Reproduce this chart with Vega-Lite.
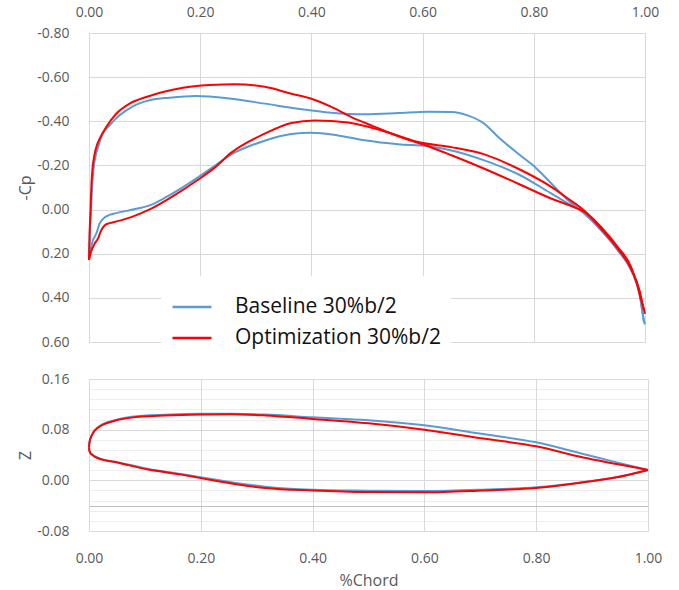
{
  "$schema": "https://vega.github.io/schema/vega-lite/v6.json",
  "background": "white",
  "padding": {"left": 17, "top": 5, "right": 5, "bottom": 5},
  "config": {
    "font": "Open Sans",
    "view": {"stroke": null},
    "axis": {"labelColor": "#595959", "labelFontSize": 14, "titleColor": "#595959", "titleFontSize": 16, "titleFontWeight": "normal", "gridColor": "#d9d9d9", "domain": false, "ticks": false, "tickSize": 0, "labelOverlap": false}
  },
  "datasets": {
    "cp": [
      {"s": "Baseline 30%b/2", "f": "upper", "x": 0, "cp": 0.227},
      {"s": "Baseline 30%b/2", "f": "upper", "x": 0.0015, "cp": 0.10},
      {"s": "Baseline 30%b/2", "f": "upper", "x": 0.0036, "cp": 0.0},
      {"s": "Baseline 30%b/2", "f": "upper", "x": 0.006, "cp": -0.12},
      {"s": "Baseline 30%b/2", "f": "upper", "x": 0.0084, "cp": -0.19},
      {"s": "Baseline 30%b/2", "f": "upper", "x": 0.012, "cp": -0.245},
      {"s": "Baseline 30%b/2", "f": "upper", "x": 0.016, "cp": -0.28},
      {"s": "Baseline 30%b/2", "f": "upper", "x": 0.025, "cp": -0.344},
      {"s": "Baseline 30%b/2", "f": "upper", "x": 0.037, "cp": -0.382},
      {"s": "Baseline 30%b/2", "f": "upper", "x": 0.055, "cp": -0.427},
      {"s": "Baseline 30%b/2", "f": "upper", "x": 0.079, "cp": -0.468},
      {"s": "Baseline 30%b/2", "f": "upper", "x": 0.109, "cp": -0.495},
      {"s": "Baseline 30%b/2", "f": "upper", "x": 0.145, "cp": -0.507},
      {"s": "Baseline 30%b/2", "f": "upper", "x": 0.193, "cp": -0.515},
      {"s": "Baseline 30%b/2", "f": "upper", "x": 0.256, "cp": -0.502},
      {"s": "Baseline 30%b/2", "f": "upper", "x": 0.316, "cp": -0.48},
      {"s": "Baseline 30%b/2", "f": "upper", "x": 0.376, "cp": -0.457},
      {"s": "Baseline 30%b/2", "f": "upper", "x": 0.436, "cp": -0.439},
      {"s": "Baseline 30%b/2", "f": "upper", "x": 0.496, "cp": -0.432},
      {"s": "Baseline 30%b/2", "f": "upper", "x": 0.556, "cp": -0.437},
      {"s": "Baseline 30%b/2", "f": "upper", "x": 0.61, "cp": -0.443},
      {"s": "Baseline 30%b/2", "f": "upper", "x": 0.652, "cp": -0.442},
      {"s": "Baseline 30%b/2", "f": "upper", "x": 0.681, "cp": -0.427},
      {"s": "Baseline 30%b/2", "f": "upper", "x": 0.711, "cp": -0.389},
      {"s": "Baseline 30%b/2", "f": "upper", "x": 0.736, "cp": -0.329},
      {"s": "Baseline 30%b/2", "f": "upper", "x": 0.772, "cp": -0.253},
      {"s": "Baseline 30%b/2", "f": "upper", "x": 0.802, "cp": -0.193},
      {"s": "Baseline 30%b/2", "f": "upper", "x": 0.832, "cp": -0.117},
      {"s": "Baseline 30%b/2", "f": "upper", "x": 0.862, "cp": -0.041},
      {"s": "Baseline 30%b/2", "f": "upper", "x": 0.891, "cp": 0.019},
      {"s": "Baseline 30%b/2", "f": "upper", "x": 0.921, "cp": 0.094},
      {"s": "Baseline 30%b/2", "f": "upper", "x": 0.951, "cp": 0.185},
      {"s": "Baseline 30%b/2", "f": "upper", "x": 0.975, "cp": 0.275},
      {"s": "Baseline 30%b/2", "f": "upper", "x": 0.99, "cp": 0.381},
      {"s": "Baseline 30%b/2", "f": "upper", "x": 0.998, "cp": 0.502},
      {"s": "Baseline 30%b/2", "f": "upper", "x": 1.0, "cp": 0.52},
      {"s": "Baseline 30%b/2", "f": "lower", "x": 0, "cp": 0.227},
      {"s": "Baseline 30%b/2", "f": "lower", "x": 0.004, "cp": 0.17},
      {"s": "Baseline 30%b/2", "f": "lower", "x": 0.007, "cp": 0.139},
      {"s": "Baseline 30%b/2", "f": "lower", "x": 0.01, "cp": 0.124},
      {"s": "Baseline 30%b/2", "f": "lower", "x": 0.013, "cp": 0.109},
      {"s": "Baseline 30%b/2", "f": "lower", "x": 0.019, "cp": 0.064},
      {"s": "Baseline 30%b/2", "f": "lower", "x": 0.028, "cp": 0.036},
      {"s": "Baseline 30%b/2", "f": "lower", "x": 0.037, "cp": 0.024},
      {"s": "Baseline 30%b/2", "f": "lower", "x": 0.049, "cp": 0.016},
      {"s": "Baseline 30%b/2", "f": "lower", "x": 0.079, "cp": 0.0},
      {"s": "Baseline 30%b/2", "f": "lower", "x": 0.109, "cp": -0.019},
      {"s": "Baseline 30%b/2", "f": "lower", "x": 0.139, "cp": -0.057},
      {"s": "Baseline 30%b/2", "f": "lower", "x": 0.169, "cp": -0.102},
      {"s": "Baseline 30%b/2", "f": "lower", "x": 0.196, "cp": -0.146},
      {"s": "Baseline 30%b/2", "f": "lower", "x": 0.223, "cp": -0.193},
      {"s": "Baseline 30%b/2", "f": "lower", "x": 0.256, "cp": -0.25},
      {"s": "Baseline 30%b/2", "f": "lower", "x": 0.316, "cp": -0.312},
      {"s": "Baseline 30%b/2", "f": "lower", "x": 0.364, "cp": -0.342},
      {"s": "Baseline 30%b/2", "f": "lower", "x": 0.4, "cp": -0.348},
      {"s": "Baseline 30%b/2", "f": "lower", "x": 0.448, "cp": -0.336},
      {"s": "Baseline 30%b/2", "f": "lower", "x": 0.496, "cp": -0.314},
      {"s": "Baseline 30%b/2", "f": "lower", "x": 0.556, "cp": -0.296},
      {"s": "Baseline 30%b/2", "f": "lower", "x": 0.61, "cp": -0.287},
      {"s": "Baseline 30%b/2", "f": "lower", "x": 0.652, "cp": -0.268},
      {"s": "Baseline 30%b/2", "f": "lower", "x": 0.711, "cp": -0.223},
      {"s": "Baseline 30%b/2", "f": "lower", "x": 0.772, "cp": -0.16},
      {"s": "Baseline 30%b/2", "f": "lower", "x": 0.832, "cp": -0.072},
      {"s": "Baseline 30%b/2", "f": "lower", "x": 0.862, "cp": -0.027},
      {"s": "Baseline 30%b/2", "f": "lower", "x": 0.891, "cp": 0.016},
      {"s": "Baseline 30%b/2", "f": "lower", "x": 0.921, "cp": 0.091},
      {"s": "Baseline 30%b/2", "f": "lower", "x": 0.951, "cp": 0.182},
      {"s": "Baseline 30%b/2", "f": "lower", "x": 0.975, "cp": 0.272},
      {"s": "Baseline 30%b/2", "f": "lower", "x": 0.99, "cp": 0.374},
      {"s": "Baseline 30%b/2", "f": "lower", "x": 0.998, "cp": 0.51},
      {"s": "Optimization 30%b/2", "f": "upper", "x": 0, "cp": 0.227},
      {"s": "Optimization 30%b/2", "f": "upper", "x": 0.0012, "cp": 0.10},
      {"s": "Optimization 30%b/2", "f": "upper", "x": 0.0028, "cp": 0.0},
      {"s": "Optimization 30%b/2", "f": "upper", "x": 0.0045, "cp": -0.12},
      {"s": "Optimization 30%b/2", "f": "upper", "x": 0.0065, "cp": -0.19},
      {"s": "Optimization 30%b/2", "f": "upper", "x": 0.01, "cp": -0.25},
      {"s": "Optimization 30%b/2", "f": "upper", "x": 0.014, "cp": -0.29},
      {"s": "Optimization 30%b/2", "f": "upper", "x": 0.019, "cp": -0.32},
      {"s": "Optimization 30%b/2", "f": "upper", "x": 0.031, "cp": -0.374},
      {"s": "Optimization 30%b/2", "f": "upper", "x": 0.049, "cp": -0.434},
      {"s": "Optimization 30%b/2", "f": "upper", "x": 0.073, "cp": -0.48},
      {"s": "Optimization 30%b/2", "f": "upper", "x": 0.103, "cp": -0.51},
      {"s": "Optimization 30%b/2", "f": "upper", "x": 0.133, "cp": -0.533},
      {"s": "Optimization 30%b/2", "f": "upper", "x": 0.169, "cp": -0.552},
      {"s": "Optimization 30%b/2", "f": "upper", "x": 0.217, "cp": -0.564},
      {"s": "Optimization 30%b/2", "f": "upper", "x": 0.262, "cp": -0.568},
      {"s": "Optimization 30%b/2", "f": "upper", "x": 0.316, "cp": -0.556},
      {"s": "Optimization 30%b/2", "f": "upper", "x": 0.364, "cp": -0.525},
      {"s": "Optimization 30%b/2", "f": "upper", "x": 0.4, "cp": -0.502},
      {"s": "Optimization 30%b/2", "f": "upper", "x": 0.436, "cp": -0.465},
      {"s": "Optimization 30%b/2", "f": "upper", "x": 0.472, "cp": -0.419},
      {"s": "Optimization 30%b/2", "f": "upper", "x": 0.514, "cp": -0.375},
      {"s": "Optimization 30%b/2", "f": "upper", "x": 0.556, "cp": -0.332},
      {"s": "Optimization 30%b/2", "f": "upper", "x": 0.61, "cp": -0.287},
      {"s": "Optimization 30%b/2", "f": "upper", "x": 0.652, "cp": -0.246},
      {"s": "Optimization 30%b/2", "f": "upper", "x": 0.711, "cp": -0.185},
      {"s": "Optimization 30%b/2", "f": "upper", "x": 0.772, "cp": -0.117},
      {"s": "Optimization 30%b/2", "f": "upper", "x": 0.832, "cp": -0.049},
      {"s": "Optimization 30%b/2", "f": "upper", "x": 0.879, "cp": -0.004},
      {"s": "Optimization 30%b/2", "f": "upper", "x": 0.891, "cp": 0.011},
      {"s": "Optimization 30%b/2", "f": "upper", "x": 0.921, "cp": 0.087},
      {"s": "Optimization 30%b/2", "f": "upper", "x": 0.951, "cp": 0.177},
      {"s": "Optimization 30%b/2", "f": "upper", "x": 0.975, "cp": 0.268},
      {"s": "Optimization 30%b/2", "f": "upper", "x": 0.99, "cp": 0.366},
      {"s": "Optimization 30%b/2", "f": "upper", "x": 0.998, "cp": 0.456},
      {"s": "Optimization 30%b/2", "f": "lower", "x": 0, "cp": 0.227},
      {"s": "Optimization 30%b/2", "f": "lower", "x": 0.004, "cp": 0.19},
      {"s": "Optimization 30%b/2", "f": "lower", "x": 0.01, "cp": 0.155},
      {"s": "Optimization 30%b/2", "f": "lower", "x": 0.016, "cp": 0.132},
      {"s": "Optimization 30%b/2", "f": "lower", "x": 0.022, "cp": 0.094},
      {"s": "Optimization 30%b/2", "f": "lower", "x": 0.028, "cp": 0.072},
      {"s": "Optimization 30%b/2", "f": "lower", "x": 0.034, "cp": 0.064},
      {"s": "Optimization 30%b/2", "f": "lower", "x": 0.046, "cp": 0.056},
      {"s": "Optimization 30%b/2", "f": "lower", "x": 0.076, "cp": 0.034},
      {"s": "Optimization 30%b/2", "f": "lower", "x": 0.112, "cp": -0.004},
      {"s": "Optimization 30%b/2", "f": "lower", "x": 0.154, "cp": -0.065},
      {"s": "Optimization 30%b/2", "f": "lower", "x": 0.196, "cp": -0.135},
      {"s": "Optimization 30%b/2", "f": "lower", "x": 0.226, "cp": -0.19},
      {"s": "Optimization 30%b/2", "f": "lower", "x": 0.256, "cp": -0.258},
      {"s": "Optimization 30%b/2", "f": "lower", "x": 0.316, "cp": -0.344},
      {"s": "Optimization 30%b/2", "f": "lower", "x": 0.364, "cp": -0.392},
      {"s": "Optimization 30%b/2", "f": "lower", "x": 0.406, "cp": -0.404},
      {"s": "Optimization 30%b/2", "f": "lower", "x": 0.466, "cp": -0.394},
      {"s": "Optimization 30%b/2", "f": "lower", "x": 0.526, "cp": -0.358},
      {"s": "Optimization 30%b/2", "f": "lower", "x": 0.556, "cp": -0.335},
      {"s": "Optimization 30%b/2", "f": "lower", "x": 0.592, "cp": -0.306},
      {"s": "Optimization 30%b/2", "f": "lower", "x": 0.652, "cp": -0.283},
      {"s": "Optimization 30%b/2", "f": "lower", "x": 0.711, "cp": -0.25},
      {"s": "Optimization 30%b/2", "f": "lower", "x": 0.772, "cp": -0.185},
      {"s": "Optimization 30%b/2", "f": "lower", "x": 0.832, "cp": -0.102},
      {"s": "Optimization 30%b/2", "f": "lower", "x": 0.862, "cp": -0.049},
      {"s": "Optimization 30%b/2", "f": "lower", "x": 0.891, "cp": 0.005},
      {"s": "Optimization 30%b/2", "f": "lower", "x": 0.921, "cp": 0.079},
      {"s": "Optimization 30%b/2", "f": "lower", "x": 0.951, "cp": 0.17},
      {"s": "Optimization 30%b/2", "f": "lower", "x": 0.975, "cp": 0.26},
      {"s": "Optimization 30%b/2", "f": "lower", "x": 0.987, "cp": 0.351},
      {"s": "Optimization 30%b/2", "f": "lower", "x": 0.993, "cp": 0.411},
      {"s": "Optimization 30%b/2", "f": "lower", "x": 0.997, "cp": 0.441},
      {"s": "Optimization 30%b/2", "f": "lower", "x": 1.0, "cp": 0.472}
    ],
    "foil": [
      {"s": "Baseline 30%b/2", "f": "upper", "x": 0, "z": 0.052},
      {"s": "Baseline 30%b/2", "f": "upper", "x": 0.001, "z": 0.061},
      {"s": "Baseline 30%b/2", "f": "upper", "x": 0.0045, "z": 0.0705},
      {"s": "Baseline 30%b/2", "f": "upper", "x": 0.016, "z": 0.0837},
      {"s": "Baseline 30%b/2", "f": "upper", "x": 0.046, "z": 0.095},
      {"s": "Baseline 30%b/2", "f": "upper", "x": 0.076, "z": 0.1005},
      {"s": "Baseline 30%b/2", "f": "upper", "x": 0.136, "z": 0.1037},
      {"s": "Baseline 30%b/2", "f": "upper", "x": 0.2, "z": 0.105},
      {"s": "Baseline 30%b/2", "f": "upper", "x": 0.255, "z": 0.105},
      {"s": "Baseline 30%b/2", "f": "upper", "x": 0.315, "z": 0.104},
      {"s": "Baseline 30%b/2", "f": "upper", "x": 0.4, "z": 0.0995},
      {"s": "Baseline 30%b/2", "f": "upper", "x": 0.5, "z": 0.095},
      {"s": "Baseline 30%b/2", "f": "upper", "x": 0.6, "z": 0.087},
      {"s": "Baseline 30%b/2", "f": "upper", "x": 0.705, "z": 0.073},
      {"s": "Baseline 30%b/2", "f": "upper", "x": 0.8, "z": 0.06},
      {"s": "Baseline 30%b/2", "f": "upper", "x": 0.884, "z": 0.0416},
      {"s": "Baseline 30%b/2", "f": "upper", "x": 0.944, "z": 0.0284},
      {"s": "Baseline 30%b/2", "f": "upper", "x": 1.0, "z": 0.0163},
      {"s": "Baseline 30%b/2", "f": "lower", "x": 0, "z": 0.052},
      {"s": "Baseline 30%b/2", "f": "lower", "x": 0.001, "z": 0.046},
      {"s": "Baseline 30%b/2", "f": "lower", "x": 0.0045, "z": 0.0416},
      {"s": "Baseline 30%b/2", "f": "lower", "x": 0.022, "z": 0.0337},
      {"s": "Baseline 30%b/2", "f": "lower", "x": 0.046, "z": 0.0295},
      {"s": "Baseline 30%b/2", "f": "lower", "x": 0.106, "z": 0.018},
      {"s": "Baseline 30%b/2", "f": "lower", "x": 0.165, "z": 0.01},
      {"s": "Baseline 30%b/2", "f": "lower", "x": 0.2, "z": 0.0047},
      {"s": "Baseline 30%b/2", "f": "lower", "x": 0.255, "z": -0.003},
      {"s": "Baseline 30%b/2", "f": "lower", "x": 0.315, "z": -0.01},
      {"s": "Baseline 30%b/2", "f": "lower", "x": 0.4, "z": -0.0147},
      {"s": "Baseline 30%b/2", "f": "lower", "x": 0.5, "z": -0.0163},
      {"s": "Baseline 30%b/2", "f": "lower", "x": 0.6, "z": -0.017},
      {"s": "Baseline 30%b/2", "f": "lower", "x": 0.705, "z": -0.0147},
      {"s": "Baseline 30%b/2", "f": "lower", "x": 0.8, "z": -0.011},
      {"s": "Baseline 30%b/2", "f": "lower", "x": 0.884, "z": -0.003},
      {"s": "Baseline 30%b/2", "f": "lower", "x": 0.944, "z": 0.0047},
      {"s": "Baseline 30%b/2", "f": "lower", "x": 1.0, "z": 0.0163},
      {"s": "Optimization 30%b/2", "f": "upper", "x": 0, "z": 0.052},
      {"s": "Optimization 30%b/2", "f": "upper", "x": 0.001, "z": 0.0605},
      {"s": "Optimization 30%b/2", "f": "upper", "x": 0.0045, "z": 0.07},
      {"s": "Optimization 30%b/2", "f": "upper", "x": 0.016, "z": 0.083},
      {"s": "Optimization 30%b/2", "f": "upper", "x": 0.046, "z": 0.094},
      {"s": "Optimization 30%b/2", "f": "upper", "x": 0.076, "z": 0.099},
      {"s": "Optimization 30%b/2", "f": "upper", "x": 0.136, "z": 0.1025},
      {"s": "Optimization 30%b/2", "f": "upper", "x": 0.2, "z": 0.104},
      {"s": "Optimization 30%b/2", "f": "upper", "x": 0.255, "z": 0.1043},
      {"s": "Optimization 30%b/2", "f": "upper", "x": 0.315, "z": 0.1025},
      {"s": "Optimization 30%b/2", "f": "upper", "x": 0.4, "z": 0.097},
      {"s": "Optimization 30%b/2", "f": "upper", "x": 0.5, "z": 0.09},
      {"s": "Optimization 30%b/2", "f": "upper", "x": 0.6, "z": 0.08},
      {"s": "Optimization 30%b/2", "f": "upper", "x": 0.705, "z": 0.066},
      {"s": "Optimization 30%b/2", "f": "upper", "x": 0.8, "z": 0.0537},
      {"s": "Optimization 30%b/2", "f": "upper", "x": 0.884, "z": 0.036},
      {"s": "Optimization 30%b/2", "f": "upper", "x": 0.944, "z": 0.0258},
      {"s": "Optimization 30%b/2", "f": "upper", "x": 1.0, "z": 0.0163},
      {"s": "Optimization 30%b/2", "f": "lower", "x": 0, "z": 0.052},
      {"s": "Optimization 30%b/2", "f": "lower", "x": 0.001, "z": 0.0455},
      {"s": "Optimization 30%b/2", "f": "lower", "x": 0.0045, "z": 0.041},
      {"s": "Optimization 30%b/2", "f": "lower", "x": 0.022, "z": 0.033},
      {"s": "Optimization 30%b/2", "f": "lower", "x": 0.046, "z": 0.029},
      {"s": "Optimization 30%b/2", "f": "lower", "x": 0.106, "z": 0.017},
      {"s": "Optimization 30%b/2", "f": "lower", "x": 0.165, "z": 0.009},
      {"s": "Optimization 30%b/2", "f": "lower", "x": 0.2, "z": 0.0035},
      {"s": "Optimization 30%b/2", "f": "lower", "x": 0.255, "z": -0.005},
      {"s": "Optimization 30%b/2", "f": "lower", "x": 0.315, "z": -0.012},
      {"s": "Optimization 30%b/2", "f": "lower", "x": 0.4, "z": -0.016},
      {"s": "Optimization 30%b/2", "f": "lower", "x": 0.5, "z": -0.0185},
      {"s": "Optimization 30%b/2", "f": "lower", "x": 0.6, "z": -0.019},
      {"s": "Optimization 30%b/2", "f": "lower", "x": 0.705, "z": -0.016},
      {"s": "Optimization 30%b/2", "f": "lower", "x": 0.8, "z": -0.012},
      {"s": "Optimization 30%b/2", "f": "lower", "x": 0.884, "z": -0.003},
      {"s": "Optimization 30%b/2", "f": "lower", "x": 0.944, "z": 0.0047},
      {"s": "Optimization 30%b/2", "f": "lower", "x": 1.0, "z": 0.0163}
    ]
  },
  "spacing": 37,
  "bounds": "flush",
  "resolve": {"legend": {"color": "independent"}},
  "vconcat": [
    {
      "width": 556,
      "height": 309,
      "data": {"name": "cp"},
      "mark": {"type": "line", "strokeWidth": 2, "interpolate": "monotone"},
      "encoding": {
        "x": {"field": "x", "type": "quantitative", "scale": {"domain": [0, 1], "nice": false, "zero": false},
              "axis": {"orient": "top", "values": [0, 0.2, 0.4, 0.6, 0.8, 1.0], "format": ".2f", "title": null, "labelPadding": 14, "labelFlush": false}},
        "y": {"field": "cp", "type": "quantitative", "scale": {"domain": [-0.8, 0.6], "reverse": true, "nice": false, "zero": false},
              "axis": {"values": [-0.8, -0.6, -0.4, -0.2, 0, 0.2, 0.4, 0.6], "labelExpr": "replace(format(datum.value, '.2f'), '−', '-')", "title": "-Cp", "labelPadding": 20, "titlePadding": 3}},
        "color": {"field": "s", "type": "nominal",
                  "scale": {"domain": ["Baseline 30%b/2", "Optimization 30%b/2"], "range": ["#5b9bd5", "#ff0000"]},
                  "legend": {"title": null, "orient": "none", "legendX": 72, "legendY": 243, "symbolType": "stroke", "symbolSize": 1521, "symbolStrokeWidth": 2.5, "labelFontSize": 21, "labelColor": "#111111", "labelOffset": 22, "fillColor": "white", "padding": 10, "rowPadding": -7, "labelLimit": 400}},
        "detail": {"field": "f"}
      }
    },
    {
      "width": 559,
      "height": 152,
      "data": {"name": "foil"},
      "mark": {"type": "line", "strokeWidth": 2, "interpolate": "monotone"},
      "encoding": {
        "x": {"field": "x", "type": "quantitative", "scale": {"domain": [0, 1], "nice": false, "zero": false},
              "axis": {"values": [0, 0.2, 0.4, 0.6, 0.8, 1.0], "format": ".2f", "title": "%Chord", "labelPadding": 20, "titlePadding": 7, "labelFlush": false}},
        "y": {"field": "z", "type": "quantitative", "scale": {"domain": [-0.08, 0.16], "nice": false, "zero": false},
              "axis": {"values": [-0.08, -0.064, -0.048, -0.04, -0.032, -0.016, 0, 0.016, 0.032, 0.048, 0.064, 0.08, 0.096, 0.112, 0.128, 0.144, 0.16],
                       "labelExpr": "abs(round(datum.value * 1000)) % 80 === 0 ? replace(format(datum.value, '.2f'), '−', '-') : ''",
                       "gridColor": {"condition": {"test": "abs(datum.value + 0.04) < 0.0001", "value": "#bfbfbf"}, "value": "#d9d9d9"},
                       "gridOpacity": {"condition": {"test": "abs(round(datum.value * 1000)) % 80 !== 0 && abs(datum.value + 0.04) >= 0.0001", "value": 0.45}, "value": 1},
                       "title": "Z", "labelPadding": 20, "titlePadding": 3}},
        "color": {"field": "s", "type": "nominal", "legend": null},
        "detail": {"field": "f"}
      }
    }
  ]
}
